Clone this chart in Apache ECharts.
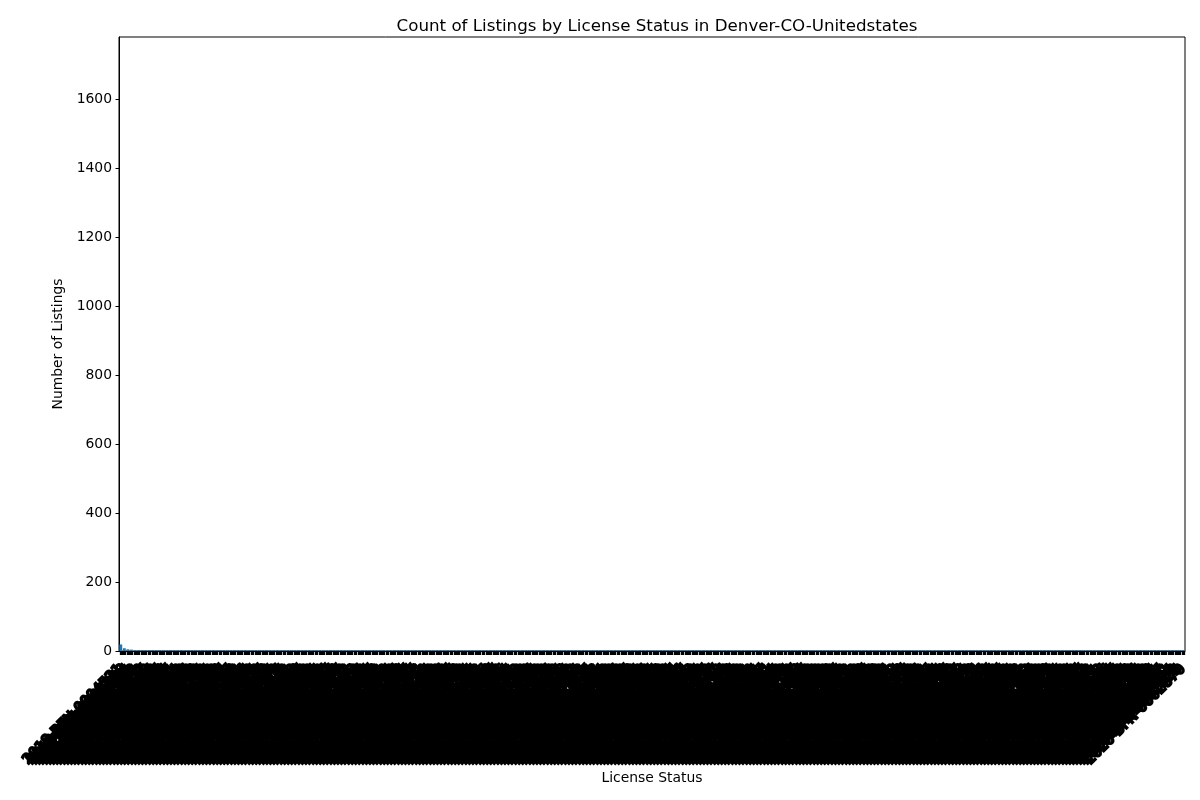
<!DOCTYPE html>
<html>
<head>
<meta charset="utf-8">
<script src="https://cdn.jsdelivr.net/npm/echarts@6/dist/echarts.min.js"></script>
<style>html,body{margin:0;padding:0;background:#fff}#c{width:1200px;height:800px}</style>
</head>
<body>
<div id="c"></div>
<script>
const titleText = "Count of Listings by License Status in Denver-CO-Unitedstates";
const xName = "License Status";
const yName = "Number of Listings";
const yTicks = [0, 200, 400, 600, 800, 1000, 1200, 1400, 1600];

const licenses = [
"2018-BFN-0004521","2019-BFN-0003838","2017-BFN-0001234","2020-BFN-0002211","2021-BFN-0007763","2018-BFN-0000891","2022-BFN-0003302","2019-BFN-0008817","2017-BFN-0005519","2023-BFN-0001146",
"2018-BFN-0006650","2019-BFN-0002047","2020-BFN-0004418","2021-BFN-0000935","2022-BFN-0005127","2017-BFN-0003381","2023-BFN-0006294","2018-BFN-0007012","2019-BFN-0001583","2020-BFN-0008846",
"2021-BFN-0002779","2022-BFN-0000418","2017-BFN-0006903","2023-BFN-0003865","2018-BFN-0002290","2019-BFN-0005734","2020-BFN-0001069","2021-BFN-0004452","2022-BFN-0007318","2017-BFN-0000267",
"2023-BFN-0008131","2018-BFN-0003947","2019-BFN-0006518","2020-BFN-0000783","2021-BFN-0005601","2022-BFN-0002836","2017-BFN-0004175","2023-BFN-0000652","2018-BFN-0008394","2019-BFN-0004063",
"2020-BFN-0006927","2021-BFN-0001318","2022-BFN-0008570","2017-BFN-0002644","2023-BFN-0005489","2018-BFN-0001776","2019-BFN-0007205","2020-BFN-0003540","2021-BFN-0006081","2022-BFN-0001493",
"2017-BFN-0007838","2023-BFN-0002317","2018-BFN-0005063","2019-BFN-0000349","2020-BFN-0007692","2021-BFN-0003224","2022-BFN-0006745","2017-BFN-0008019","2023-BFN-0004906","2018-BFN-0000157",
"2019-BFN-0002966","2020-BFN-0005258","2021-BFN-0008607","2022-BFN-0004083","2017-BFN-0001872","2023-BFN-0007441","2018-BFN-0006128","2019-BFN-0003410","2020-BFN-0000526","2021-BFN-0007049",
"2022-BFN-0000964","2017-BFN-0005387","2023-BFN-0003058","2018-BFN-0004739","2019-BFN-0006871","2020-BFN-0002593","2021-BFN-0001705","2022-BFN-0005962","2017-BFN-0003016","2023-BFN-0008288",
"2018-BFN-0007574","2019-BFN-0001127","2020-BFN-0006304","2021-BFN-0004897","2022-BFN-0002158","2017-BFN-0006441","2023-BFN-0001739","2018-BFN-0003185","2019-BFN-0008352","2020-BFN-0004679",
"2021-BFN-0000582","2022-BFN-0007896","2017-BFN-0002409","2023-BFN-0006017","2018-BFN-0005896","2019-BFN-0000718","2020-BFN-0008163","2021-BFN-0002930","2022-BFN-0004614","2017-BFN-0007275",
"2023-BFN-0002785","2018-BFN-0001402","2019-BFN-0005091","2020-BFN-0003876","2021-BFN-0006658","2022-BFN-0001027","2017-BFN-0004827","2023-BFN-0005333","2018-BFN-0008716","2019-BFN-0002614",
"2020-BFN-0001945","2021-BFN-0008291","2022-BFN-0006203","2017-BFN-0000739","2023-BFN-0000189","2018-BFN-0006982","2019-BFN-0007436","2020-BFN-0005705","2021-BFN-0003563","2022-BFN-0003749",
"2017-BFN-0008560","2023-BFN-0007826","2018-BFN-0002513","2019-BFN-0004280","2020-BFN-0000274","2021-BFN-0005148","2022-BFN-0008024","2017-BFN-0001590","2023-BFN-0004372","2018-BFN-0004064",
"2019-BFN-0006093","2020-BFN-0007421","2021-BFN-0000107","2022-BFN-0002471","2017-BFN-0006018","2023-BFN-0006751","2018-BFN-0000534","2019-BFN-0001862","2020-BFN-0003159","2021-BFN-0007580",
"2022-BFN-0005536","2017-BFN-0003702","2023-BFN-0001463","2018-BFN-0007307","2019-BFN-0005448","2020-BFN-0006580","2021-BFN-0002364","2022-BFN-0000679","2017-BFN-0005046","2023-BFN-0003590",
"2018-BFN-0003624","2019-BFN-0008145","2020-BFN-0001738","2021-BFN-0006239","2022-BFN-0007152","2017-BFN-0000985","2023-BFN-0008597","2018-BFN-0005231","2019-BFN-0000956","2020-BFN-0004927",
"2021-BFN-0004011","2022-BFN-0003918","2017-BFN-0007599","2023-BFN-0002054","2018-BFN-0001089","2019-BFN-0003297","2020-BFN-0008409","2021-BFN-0001476","2022-BFN-0006487","2017-BFN-0002183",
"2023-BFN-0005716","2018-BFN-0008043","2019-BFN-0007768","2020-BFN-0002005","2021-BFN-0008842","2022-BFN-0001310","2017-BFN-0004650","2023-BFN-0000931","2018-BFN-0006379","2019-BFN-0004715",
"2020-BFN-0005981","2021-BFN-0003107","2022-BFN-0004266","2017-BFN-0008231","2023-BFN-0007104","2018-BFN-0002845","2019-BFN-0001340","2020-BFN-0000612","2021-BFN-0005874","2022-BFN-0008759",
"2017-BFN-0001047","2023-BFN-0004138","2018-BFN-0004406","2019-BFN-0006247","2020-BFN-0007103","2021-BFN-0000860","2022-BFN-0002602","2017-BFN-0005862","2023-BFN-0006469","2018-BFN-0000723",
"2019-BFN-0002508","2020-BFN-0003693","2021-BFN-0007317","2022-BFN-0005094","2017-BFN-0003579","2023-BFN-0001872","2018-BFN-0007851","2019-BFN-0005622","2020-BFN-0006039","2021-BFN-0002618",
"2022-BFN-0000247","2017-BFN-0006794","2023-BFN-0003243","2018-BFN-0003058","2019-BFN-0008530","2020-BFN-0001390","2021-BFN-0006406","2022-BFN-0007581","2017-BFN-0000412","2023-BFN-0008044",
"2018-BFN-0005478","2019-BFN-0000187","2020-BFN-0004266","2021-BFN-0004713","2022-BFN-0003360","2017-BFN-0007146","2023-BFN-0002619","2018-BFN-0001651","2019-BFN-0003027","2020-BFN-0008750",
"2021-BFN-0001195","2022-BFN-0006035","2017-BFN-0002728","2023-BFN-0005187","2018-BFN-0008268","2019-BFN-0007092","2020-BFN-0002447","2021-BFN-0008068","2022-BFN-0001734","2017-BFN-0004293",
"2023-BFN-0000508","2018-BFN-0006826","2019-BFN-0004491","2020-BFN-0005346","2021-BFN-0003482","2022-BFN-0004807","2017-BFN-0008675","2023-BFN-0007539","2018-BFN-0002137","2019-BFN-0001704",
"2020-BFN-0000159","2021-BFN-0005225","2022-BFN-0008319","2017-BFN-0001408","2023-BFN-0004761","2018-BFN-0004980","2019-BFN-0006612","2020-BFN-0007516","2021-BFN-0000329","2022-BFN-0002189",
"2017-BFN-0005230","2023-BFN-0006908","2018-BFN-0000376","2019-BFN-0002859","2020-BFN-0003014","2021-BFN-0007944","2022-BFN-0005410","2017-BFN-0003953","2023-BFN-0001295","2018-BFN-0007419",
"2019-BFN-0005167","2020-BFN-0006487","2021-BFN-0002053","2022-BFN-0000813","2017-BFN-0006361","2023-BFN-0003711","2018-BFN-0003702","2019-BFN-0008976","2020-BFN-0001826","2021-BFN-0006854",
"2022-BFN-0007027","2017-BFN-0000064","2023-BFN-0008463","2018-BFN-0005645","2019-BFN-0000508","2020-BFN-0004053","2021-BFN-0004376","2022-BFN-0003695","2017-BFN-0007780","2023-BFN-0002472",
"2018-BFN-0001918","2019-BFN-0003584","2020-BFN-0008331","2021-BFN-0001627","2022-BFN-0006670","2017-BFN-0002361","2023-BFN-0005604","2018-BFN-0008109","2019-BFN-0007325","2020-BFN-0002870"
];

const counts = [
19,8,5,4,3,3,2,2,2,2,
1,1,1,1,1,1,1,1,1,1, 1,1,1,1,1,1,1,1,1,1, 1,1,1,1,1,1,1,1,1,1, 1,1,1,1,1,1,1,1,1,1,
1,1,1,1,1,1,1,1,1,1, 1,1,1,1,1,1,1,1,1,1, 1,1,1,1,1,1,1,1,1,1, 1,1,1,1,1,1,1,1,1,1,
1,1,1,1,1,1,1,1,1,1, 1,1,1,1,1,1,1,1,1,1, 1,1,1,1,1,1,1,1,1,1, 1,1,1,1,1,1,1,1,1,1,
1,1,1,1,1,1,1,1,1,1, 1,1,1,1,1,1,1,1,1,1, 1,1,1,1,1,1,1,1,1,1, 1,1,1,1,1,1,1,1,1,1,
1,1,1,1,1,1,1,1,1,1, 1,1,1,1,1,1,1,1,1,1, 1,1,1,1,1,1,1,1,1,1, 1,1,1,1,1,1,1,1,1,1,
1,1,1,1,1,1,1,1,1,1, 1,1,1,1,1,1,1,1,1,1, 1,1,1,1,1,1,1,1,1,1, 1,1,1,1,1,1,1,1,1,1,
1,1,1,1,1,1,1,1,1,1, 1,1,1,1,1,1,1,1,1,1, 1,1,1,1,1,1,1,1,1,1, 1,1,1,1,1,1,1,1,1,1,
1,1,1,1,1,1,1,1,1,1, 1,1,1,1,1,1,1,1,1,1, 1,1,1,1,1,1,1,1,1,1, 1,1,1,1,1,1,1,1,1,1
];

const FONT = "DejaVu Sans";
const chart = echarts.init(document.getElementById('c'), null, {renderer: 'canvas'});
chart.setOption({
  animation: false,
  backgroundColor: '#ffffff',
  title: {
    text: titleText,
    left: 652, top: 13, textAlign: 'center',
    textStyle: {fontFamily: FONT, fontSize: 16.7, fontWeight: 'normal', color: '#000'}
  },
  grid: {left: 119, right: 15, top: 37, bottom: 149, show: true, borderColor: '#000', borderWidth: 1, containLabel: false},
  xAxis: {
    type: 'category',
    data: licenses,
    name: xName, nameLocation: 'middle', nameGap: 120, nameMoveOverlap: false,
    nameTextStyle: {fontFamily: FONT, fontSize: 13.9, color: '#000'},
    axisLine: {lineStyle: {color: '#000', width: 1}},
    axisTick: {show: true, interval: 0, alignWithLabel: true, length: 4, lineStyle: {color: '#000', width: 3.3}},
    axisLabel: {interval: 0, rotate: 45, margin: 16, fontFamily: FONT, fontSize: 13.9, color: '#000',
      textBorderColor: '#000', textBorderWidth: 2.2},
    splitLine: {show: false}
  },
  yAxis: {
    type: 'value',
    min: 0, max: 1780, interval: 200,
    name: yName, nameLocation: 'middle', nameGap: 52,
    nameTextStyle: {fontFamily: FONT, fontSize: 13.9, color: '#000'},
    axisLine: {show: true, lineStyle: {color: '#000', width: 1}},
    axisTick: {show: true, length: 3.5, lineStyle: {color: '#000'}},
    axisLabel: {showMaxLabel: false, margin: 7, fontFamily: FONT, fontSize: 13.9, color: '#000',
      formatter: v => yTicks.indexOf(v) >= 0 ? String(v) : ''},
    splitLine: {show: false}
  },
  series: [{
    type: 'bar',
    data: counts,
    barCategoryGap: '20%',
    barMinHeight: 1,
    itemStyle: {color: '#1f77b4'}
  }]
});
</script>
</body>
</html>
